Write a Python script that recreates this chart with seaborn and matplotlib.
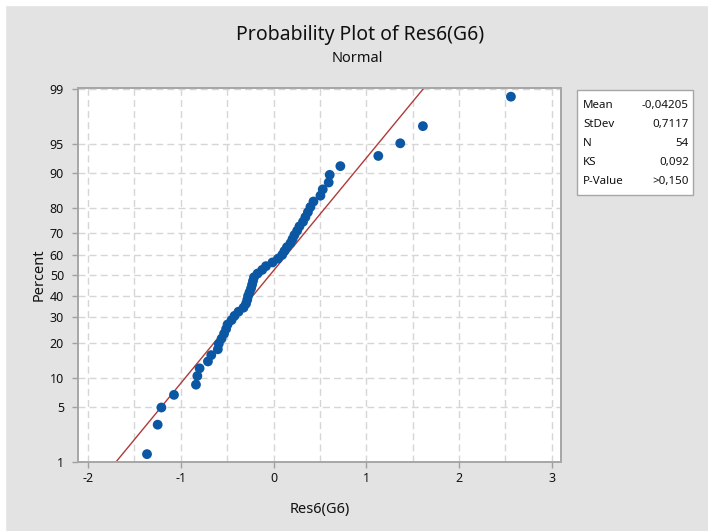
import numpy as np
import pandas as pd
import seaborn as sns
import matplotlib.pyplot as plt
from matplotlib.patches import Rectangle
from statistics import NormalDist

# residuals (sorted)
residuals = [-1.364, -1.249, -1.209, -1.073, -0.836, -0.821, -0.797, -0.707, -0.671, -0.600,
             -0.590, -0.560, -0.533, -0.511, -0.495, -0.452, -0.420, -0.377, -0.323, -0.296,
             -0.283, -0.274, -0.258, -0.242, -0.231, -0.221, -0.210, -0.172, -0.122, -0.081,
             -0.011, 0.048, 0.094, 0.118, 0.145, 0.183, 0.205, 0.226, 0.255, 0.280,
             0.318, 0.344, 0.371, 0.398, 0.431, 0.506, 0.531, 0.595, 0.606, 0.721,
             1.130, 1.367, 1.611, 2.560]
pct_ticks = [1, 5, 10, 20, 30, 40, 50, 60, 70, 80, 90, 95, 99]
x_ticks = [-2, -1, 0, 1, 2, 3]
stat_labels = ['Mean', 'StDev', 'N', 'KS', 'P-Value']
stat_values = ['-0,04205', '0,7117', '54', '0,092', '>0,150']
mean, stdev = -0.04205, 0.7117

nd = NormalDist()
n = len(residuals)
df = pd.DataFrame({'x': sorted(residuals)})
df['pct'] = [(i + 1 - 0.3) / (n + 0.4) for i in range(n)]  # Benard median ranks
df['z'] = [nd.inv_cdf(p) for p in df['pct']]

zz = np.array([-2.6, 2.6])
fit = pd.DataFrame({'x': mean + stdev * zz, 'z': zz})

sns.set_style('white')
plt.rcParams['font.family'] = ['Noto Sans', 'DejaVu Sans']

bg = '#e3e3e3'
fig = plt.figure(figsize=(7.08, 5.31), dpi=100, facecolor=bg)
# white screenshot margins at top/left
fig.patches.append(Rectangle((0, 0), 5 / 708, 1, transform=fig.transFigure, color='white', zorder=0))
fig.patches.append(Rectangle((0, 1 - 5 / 531), 1, 5 / 531, transform=fig.transFigure, color='white', zorder=0))

ax = fig.add_axes([78 / 708, 69 / 531, 483 / 708, 374 / 531])
ax.set_facecolor('white')

# grid
for gx in np.arange(-2, 3.01, 0.5):
    ax.axvline(gx, color='#d6d6d6', lw=1, ls=(0, (5, 3)), zorder=0)
for p in pct_ticks:
    ax.axhline(nd.inv_cdf(p / 100), color='#d6d6d6', lw=1, ls=(0, (5, 3)), zorder=0)

sns.lineplot(data=fit, x='x', y='z', color='#b03a3a', lw=1, sort=False, ax=ax, zorder=2)
sns.scatterplot(data=df, x='x', y='z', color='#0b57a4', s=50, edgecolor='none', ax=ax, zorder=3)

ax.set_xlim(-2.108, 3.10)
ax.set_ylim(nd.inv_cdf(0.01) - 0.002, nd.inv_cdf(0.99) + 0.012)
ax.set_xticks(x_ticks)
ax.set_xticklabels([str(t) for t in x_ticks])
ax.set_yticks([nd.inv_cdf(p / 100) for p in pct_ticks])
ax.set_yticklabels([str(p) for p in pct_ticks])
ax.tick_params(axis='both', length=4, width=1, color='#a0a0a0', labelsize=9, labelcolor='#111111')
ax.tick_params(axis='y', pad=6)
ax.tick_params(bottom=True, left=True)
for sp in ax.spines.values():
    sp.set_color('#a6a6a6')
    sp.set_linewidth(1.4)

ax.set_xlabel('Res6(G6)', fontsize=10.5, color='#111111', labelpad=12)
ax.set_ylabel('Percent', fontsize=10.5, color='#111111', labelpad=2)

fig.text(360 / 708, 1 - 35 / 531, 'Probability Plot of Res6(G6)', ha='center', va='center',
         fontsize=14, color='#111111')
fig.text(357 / 708, 1 - 58 / 531, 'Normal', ha='center', va='center', fontsize=10.5, color='#111111')

# stats box
box = Rectangle((577 / 708, 1 - 195 / 531), 116 / 708, 105 / 531, transform=fig.transFigure,
                facecolor='white', edgecolor='#a6a6a6', lw=1)
fig.patches.append(box)
for k, (lab, val) in enumerate(zip(stat_labels, stat_values)):
    yy = 1 - (105.5 + k * 19) / 531
    fig.text(583 / 708, yy, lab, ha='left', va='center', fontsize=8.3, color='#111111')
    fig.text(689 / 708, yy, val, ha='right', va='center', fontsize=8.3, color='#111111')

fig.savefig('out.png', dpi=100, facecolor=bg)
